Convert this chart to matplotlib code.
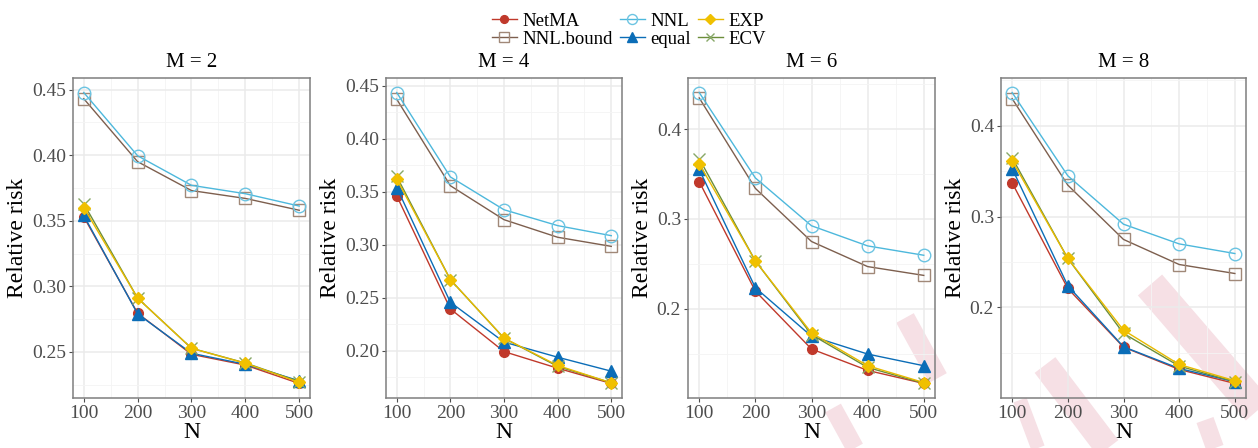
import numpy as np
import matplotlib
matplotlib.use("Agg")
import matplotlib.pyplot as plt
from matplotlib.lines import Line2D
from matplotlib.ticker import MultipleLocator

plt.rcParams['font.family'] = ['Liberation Serif', 'DejaVu Serif']

# relative risk by sample size N, one block per M
N = [100, 200, 300, 400, 500]
panels = ["M = 2", "M = 4", "M = 6", "M = 8"]

netma = [[0.353, 0.2795, 0.2482, 0.240, 0.226],
         [0.3462, 0.2393, 0.199, 0.1833, 0.1689],
         [0.3415, 0.2197, 0.1553, 0.1315, 0.117],
         [0.3372, 0.2209, 0.1563, 0.1317, 0.1163]]
nnl_bound = [[0.443, 0.395, 0.373, 0.367, 0.358],
             [0.4374, 0.3557, 0.3236, 0.307, 0.2984],
             [0.4346, 0.334, 0.2749, 0.247, 0.2372],
             [0.430, 0.3347, 0.2749, 0.2473, 0.2374]]
nnl = [[0.4477, 0.3995, 0.377, 0.3706, 0.3612],
       [0.4437, 0.364, 0.333, 0.318, 0.3085],
       [0.4406, 0.3456, 0.2924, 0.270, 0.2596],
       [0.4367, 0.345, 0.2917, 0.270, 0.2594]]
equal = [[0.354, 0.279, 0.249, 0.2406, 0.228],
         [0.354, 0.2456, 0.208, 0.1937, 0.1805],
         [0.355, 0.2235, 0.1695, 0.1497, 0.1367],
         [0.353, 0.2239, 0.1567, 0.1328, 0.1182]]
exp_ = [[0.360, 0.291, 0.2528, 0.2414, 0.2269],
        [0.362, 0.267, 0.2117, 0.1859, 0.1695],
        [0.3613, 0.2533, 0.1732, 0.1367, 0.118],
        [0.3615, 0.254, 0.175, 0.1372, 0.1193]]
ecv = [[0.363, 0.291, 0.2528, 0.2416, 0.2274],
       [0.3645, 0.267, 0.2117, 0.185, 0.1695],
       [0.367, 0.2533, 0.1713, 0.1348, 0.1172],
       [0.3648, 0.254, 0.1714, 0.1354, 0.1182]]

major_step = [0.05, 0.05, 0.1, 0.1]

# name, data, line colour, marker, marker face, marker edge, size
styles = [
    ("NetMA", netma, "#C0392B", "o", "#C0392B", "#C0392B", 7),
    ("NNL.bound", nnl_bound, "#7D5F4E", "s", "none", "#A08878", 8.5),
    ("NNL", nnl, "#4DB8DC", "o", "none", "#6CC4E2", 9),
    ("equal", equal, "#0B6DB7", "^", "#0B6DB7", "#0B6DB7", 8.5),
    ("ECV", ecv, "#6B8E3A", "x", "none", "#88A868", 8),
    ("EXP", exp_, "#E8BA00", "D", "#F0C000", "#F0C000", 6),
]
legend_order = ["NetMA", "NNL.bound", "NNL", "equal", "EXP", "ECV"]

fig = plt.figure(figsize=(12.58, 4.48), dpi=100)

# faint watermark strokes behind the panels (pixel coords, width in px)
pink = "#F6E0E5"
strokes = [((905, 318), (938, 378), 20),
           ((833, 408), (855, 448), 18),
           ((1020, 400), (1038, 448), 14),
           ((1045, 365), (1108, 448), 26),
           ((1150, 285), (1258, 410), 32),
           ((1205, 420), (1215, 448), 18)]
for (x0, y0), (x1, y1), w in strokes:
    fig.add_artist(Line2D([x0 / 1258, x1 / 1258], [1 - y0 / 448, 1 - y1 / 448],
                          transform=fig.transFigure, color=pink, lw=w * 0.72,
                          solid_capstyle="butt", zorder=0))

lefts = [73, 386, 688, 1001]
rights = [310, 622, 935, 1246]
top, bottom = 78, 398

for i, title in enumerate(panels):
    ax = fig.add_axes([lefts[i] / 1258, 1 - bottom / 448,
                       (rights[i] - lefts[i]) / 1258, (bottom - top) / 448])
    ax.set_facecolor("none")
    allv = np.concatenate([np.array(s[1][i]) for s in styles])
    lo, hi = allv.min(), allv.max()
    pad = 0.05 * (hi - lo)
    ax.set_ylim(lo - pad, hi + pad)
    ax.set_xlim(80, 520)
    for name, data, lc, mk, mf, me, ms in styles:
        ax.plot(N, data[i], color=lc, lw=1.0, marker=mk, markersize=ms,
                markerfacecolor=mf, markeredgecolor=me, markeredgewidth=1.0,
                label=name, zorder=3)
    ax.xaxis.set_major_locator(MultipleLocator(100))
    ax.xaxis.set_minor_locator(MultipleLocator(50))
    ax.yaxis.set_major_locator(MultipleLocator(major_step[i]))
    ax.yaxis.set_minor_locator(MultipleLocator(major_step[i] / 2))
    ax.yaxis.set_major_formatter(
        matplotlib.ticker.FormatStrFormatter("%.2f" if major_step[i] < 0.1 else "%.1f"))
    ax.grid(which="major", color="#EBEBEB", lw=1.1, zorder=0)
    ax.grid(which="minor", color="#F4F4F4", lw=0.6, zorder=0)
    ax.set_axisbelow(True)
    for sp in ax.spines.values():
        sp.set_color("#7F7F7F")
        sp.set_linewidth(1.1)
    ax.tick_params(which="major", length=3, width=0.8, color="#4D4D4D",
                   labelsize=14, labelcolor="#4D4D4D", pad=2)
    ax.tick_params(which="minor", length=0)
    ax.set_title(title, fontsize=15, pad=8)
    ax.set_xlabel("N", fontsize=17, labelpad=0)
    ax.set_ylabel("Relative risk", fontsize=17, labelpad=3)
    if i == 0:
        handles, labels = ax.get_legend_handles_labels()
        hmap = dict(zip(labels, handles))

fig.legend([hmap[k] for k in legend_order], legend_order, loc="upper center",
           bbox_to_anchor=(0.5, 1.01), ncol=3, frameon=False, fontsize=13.5,
           handlelength=1.3, handletextpad=0.3, columnspacing=0.4,
           labelspacing=0.05, markerscale=0.8)

fig.savefig("out.png", dpi=100, facecolor="white")
